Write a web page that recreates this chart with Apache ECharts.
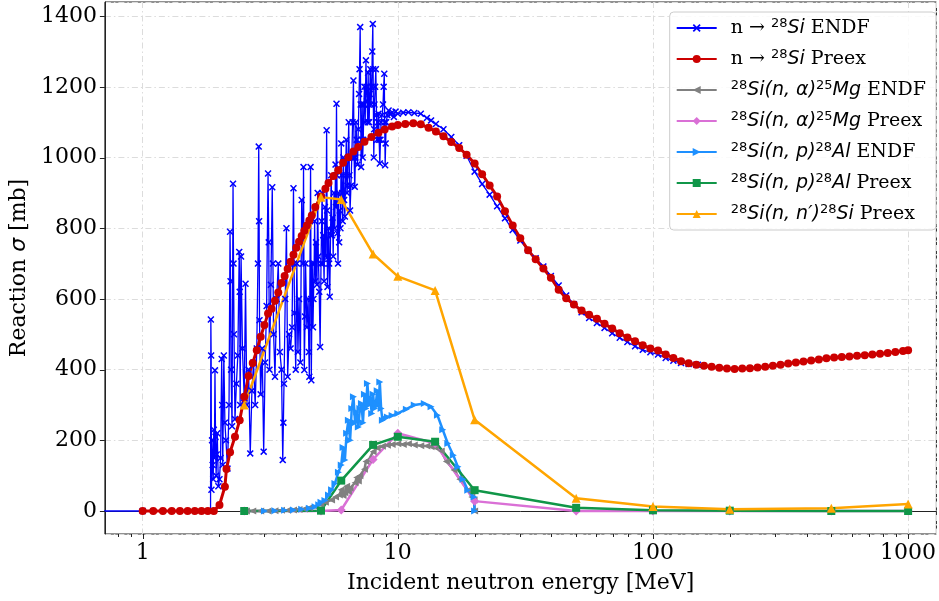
<!DOCTYPE html>
<html>
<head>
<meta charset="utf-8">
<script src="https://cdn.jsdelivr.net/npm/echarts@6/dist/echarts.min.js"></script>
<style>html,body{margin:0;padding:0;background:#fff}#c{width:939px;height:601px}</style>
</head>
<body>
<div id="c"></div>
<script>
// ---- data (energy in MeV, cross-section in mb) ----
const endfTotal = [[0.5,0],[1.0,0],[1.845,0],
[1.85,542],[1.855,440],[1.86,60],[1.87,200],[1.88,130],[1.89,90],[1.9,230],[1.91,150],[1.92,398],[1.93,210],[1.94,100],[1.95,160],[1.96,220],[1.98,70],[2.0,90],[2.02,150],[2.04,430],[2.05,300],[2.06,130],[2.08,440],[2.1,250],[2.12,200],[2.15,120],[2.18,300],[2.2,790],[2.21,650],[2.22,400],[2.24,240],[2.26,926],[2.27,700],[2.28,500],[2.3,260],[2.33,360],[2.36,440],[2.39,733],[2.4,620],[2.41,300],[2.43,720],[2.46,460],[2.5,320],[2.53,643],[2.56,300],[2.6,400],[2.64,163],[2.68,340],[2.72,420],[2.76,300],[2.8,460],[2.83,700],[2.85,1031],[2.86,820],[2.87,540],[2.9,330],[2.94,460],[2.98,168],[3.02,420],[3.06,580],[3.1,955],[3.12,760],[3.14,400],[3.18,640],[3.22,916],[3.24,700],[3.26,500],[3.3,380],[3.35,600],[3.4,700],[3.45,450],[3.5,400],[3.54,144],[3.56,250],[3.58,360],[3.62,600],[3.66,800],[3.7,380],[3.75,500],[3.8,460],[3.85,520],[3.9,913],[3.92,700],[3.94,560],[3.98,400],[4.02,700],[4.06,450],[4.1,600],[4.15,420],[4.2,880],[4.25,700],[4.27,973],[4.3,399],[4.33,550],[4.35,700],[4.4,520],[4.45,600],[4.48,450],[4.5,380],[4.55,973],[4.57,600],[4.58,370],[4.62,700],[4.65,520],[4.67,600],[4.7,700],[4.72,820],[4.75,650],[4.78,760],[4.82,640],[4.85,900],[4.88,720],[4.92,620],[4.96,464],[5.0,700],[5.03,820],[5.05,900],[5.08,700],[5.1,780],[5.14,650],[5.18,860],[5.22,720],[5.26,1077],[5.28,850],[5.3,634],[5.33,720],[5.36,800],[5.38,700],[5.41,606],[5.45,780],[5.48,950],[5.52,780],[5.55,830],[5.58,720],[5.62,900],[5.66,800],[5.7,980],[5.72,860],[5.75,1152],[5.77,950],[5.8,786],[5.83,700],[5.86,900],[5.89,760],[5.92,850],[5.96,800],[6.0,1040],[6.02,950],[6.05,900],[6.08,820],[6.12,1000],[6.16,880],[6.2,833],[6.24,950],[6.28,1050],[6.32,900],[6.35,920],[6.38,1000],[6.42,1100],[6.46,950],[6.5,850],[6.55,920],[6.6,1000],[6.65,1100],[6.7,1218],[6.74,1000],[6.78,917],[6.82,1000],[6.85,1100],[6.9,1050],[6.95,980],[7.0,1080],[7.05,1180],[7.08,1250],[7.12,1369],[7.15,1150],[7.18,973],[7.22,1050],[7.25,1150],[7.28,1000],[7.32,1050],[7.36,1150],[7.4,1200],[7.45,1100],[7.5,1275],[7.54,1200],[7.58,1160],[7.62,1100],[7.65,1240],[7.68,1150],[7.72,1100],[7.76,1180],[7.8,1250],[7.85,1150],[7.9,1200],[7.94,1300],[7.98,1378],[8.0,1250],[8.05,1000],[8.08,1080],[8.1,1150],[8.15,1200],[8.2,1250],[8.25,1120],[8.3,1050],[8.35,1100],[8.4,1124],[8.45,1050],[8.5,983],[8.55,1050],[8.6,1100],[8.68,1120],[8.75,1150],[8.8,1200],[8.85,1237],[8.88,1100],[8.92,978],[8.96,1040],[9.0,1100],[9.1,1120],[9.2,1133],[9.35,1122],[9.5,1128],[9.65,1115],[9.8,1130],
[10,1124],[10.5,1127],[11,1128],[11.6,1126],[12.3,1124],[13.0,1112],[13.5,1105],[14.1,1095],[15.1,1080],[16.2,1058],[17.4,1035],[18.6,1005],[20,960],[21.4,925],[22.9,895],[24.5,862],[26.3,828],[28.2,795],[30.2,765],[32.4,738],[34.7,715],[37.2,692],[39.8,665],[42.7,638],[45.7,610],[49,585],[52.5,562],[56.2,546],[60.3,532],[64.6,518],[69.2,503],[74.1,490],[79.4,478],[85.1,466],[91.2,456],[97.7,449],[104.7,443],[112.2,433],[120.2,425],[128.8,419],[138,416],[147.9,414],[150,414]];

const preexTotal = [[1.0,0],[1.1,0],[1.2,0],[1.3,0],[1.4,0],[1.5,0],[1.6,0],[1.7,0],[1.8,0],[1.9,0],[2.0,17],[2.1,69],[2.13,119],[2.2,166],[2.3,210],[2.4,257],[2.5,323],[2.6,382],[2.7,419],[2.8,455],[2.9,493],[3.0,526],[3.1,559],[3.2,572],[3.3,595],[3.4,618],[3.5,645],[3.6,665],[3.7,685],[3.8,705],[3.9,725],[4.0,745],[4.1,762],[4.2,778],[4.3,793],[4.4,808],[4.5,822],[4.6,836],[4.75,860],[5.0,890],[5.2,912],[5.35,928],[5.6,948],[5.84,964],[6.1,985],[6.4,1001],[6.7,1017],[7.0,1030],[7.4,1045],[7.88,1058],[8.4,1070],[8.88,1079],[9.5,1088],
[10,1092],[10.7,1095],[11.5,1097],[12.3,1094],[13.2,1084],[14.1,1074],[15.1,1060],[16.2,1044],[17.4,1027],[18.6,1008],[20,983],[21.4,953],[22.9,921],[24.5,890],[26.3,848],[28.2,808],[30.2,772],[32.4,738],[34.7,712],[37.2,686],[39.8,660],[42.7,626],[45.7,602],[49,584],[52.5,567],[56.2,555],[60.3,544],[64.6,530],[69.2,516],[74.1,503],[79.4,491],[85.1,480],[91.2,469],[97.7,460],[104.7,454],[112.2,443],[120.2,433],[128.8,424],[138,418],[147.9,414],[158.5,411],[169.8,408],[182,405],[195,403],[208.9,402],[223.9,403],[239.9,404],[257,406],[275.4,408],[295.1,411],[316.2,414],[338.8,417],[363.1,420],[389,423],[416.9,426],[446.7,429],[478.6,432],[512.9,434],[549.5,436],[588.8,437],[631,439],[676.1,441],[724.4,443],[776.2,445],[831.8,447],[891.3,450],[955,453],[1000,455]];

const endfAlpha = [[2.55,0],[2.7,0],[2.9,0],[3.1,0],[3.3,1],[3.5,2],[3.7,2],[3.9,3],[4.1,4],[4.3,6],[4.5,9],[4.75,12],[5.0,18],[5.2,25],[5.5,31],[5.7,40],[5.9,45],[6.0,60],[6.1,44],[6.2,52],[6.3,70],[6.4,55],[6.5,65],[6.8,80],[6.9,95],[7.0,85],[7.1,100],[7.4,118],[7.5,140],[7.7,145],[8.0,168],[8.3,178],[8.7,183],[9.1,186],[9.5,188],[10,190],[10.5,188],[11,190],[11.6,187],[12.3,185],[13,184],[13.5,182],[14,180],[14.8,170],[15.5,140],[16.6,116],[17.5,90],[18.8,59],[19.5,40],[19.9,31],[20,0]];
const preexAlpha = [[2.5,0],[5,0],[6,3],[8,146],[10,220],[14,191],[20,28],[50,0],[100,0],[200,0],[500,0],[1000,0]];
const endfP = [[3.0,0],[3.3,1],[3.6,2],[3.9,3],[4.2,5],[4.5,8],[4.74,12],[4.9,18],[5.0,25],[5.18,30],[5.35,45],[5.5,60],[5.67,78],[5.85,110],[6.0,130],[6.1,180],[6.2,144],[6.3,220],[6.4,257],[6.5,200],[6.6,290],[6.7,323],[6.8,250],[6.9,280],[7.0,238],[7.1,290],[7.2,304],[7.3,250],[7.4,330],[7.5,290],[7.6,361],[7.7,300],[7.8,320],[7.9,276],[8.0,330],[8.1,290],[8.2,304],[8.3,340],[8.4,300],[8.5,365],[8.6,290],[8.7,257],[8.9,262],[9.1,266],[9.5,270],[10,276],[10.8,288],[11.6,300],[12.7,304],[13.5,295],[14.3,271],[15.0,230],[15.7,191],[16.5,158],[17.2,125],[18,90],[18.8,59],[19.9,40],[20,0]];
const preexP = [[2.5,0],[5,1],[6,86],[8,187],[10,210],[14,196],[20,59],[50,9],[100,2],[200,1],[500,0],[1000,0]];
const preexInel = [[2.5,300],[5,888],[6,881],[8,727],[10,664],[14,624],[20,258],[50,36],[100,13],[200,5],[500,8],[1000,20]];

const seriesNames = ['n → 28Si ENDF','n → 28Si Preex','28Si(n,α)25Mg ENDF','28Si(n,α)25Mg Preex','28Si(n,p)28Al ENDF','28Si(n,p)28Al Preex',"28Si(n,n')28Si Preex"];
const legendRich = [
 '{g|}{t|n → }{s|28}{m|Si}{t| ENDF}',
 '{g|}{t|n → }{s|28}{m|Si}{t| Preex}',
 '{g|}{s|28}{m|Si(n, α)}{s|25}{m|Mg}{t| ENDF}',
 '{g|}{s|28}{m|Si(n, α)}{s|25}{m|Mg}{t| Preex}',
 '{g|}{s|28}{m|Si(n, p)}{s|28}{m|Al}{t| ENDF}',
 '{g|}{s|28}{m|Si(n, p)}{s|28}{m|Al}{t| Preex}',
 '{g|}{s|28}{m|Si(n, n′)}{s|28}{m|Si}{t| Preex}'
];
const xTitle = 'Incident neutron energy [MeV]';
const yTitleRich = '{t|Reaction }{m|σ}{t| [mb]}';
const xMajorTicks = [1,10,100,1000];
const xMinorTicks = [0.8,0.9,2,3,4,5,6,7,8,9,20,30,40,50,60,70,80,90,200,300,400,500,600,700,800,900];
const yTicks = [0,200,400,600,800,1000,1200,1400];
const X_MIN = 0.711, X_MAX = 1291, Y_MIN = -65, Y_MAX = 1440;

const SYM_X = 'path://M0,1.5L1.5,0L5,3.5L8.5,0L10,1.5L6.5,5L10,8.5L8.5,10L5,6.5L1.5,10L0,8.5L3.5,5Z';
const SYM_LEFT = 'path://M0,5L10,0L10,10Z';
const SYM_RIGHT = 'path://M10,5L0,0L0,10Z';

function lineSeries(name, data, color, width, symbol, size) {
  return {
    name, type: 'line', data, symbol, symbolSize: size, showSymbol: true,
    lineStyle: { color, width }, itemStyle: { color, borderWidth: 0 },
    emphasis: { disabled: true }, clip: true
  };
}

const chart = echarts.init(document.getElementById('c'), null, { renderer: 'canvas' });
const xTickData = xMajorTicks.map(v => [v, 0, 1]).concat(xMinorTicks.map(v => [v, 0, 0]));
const yTickData = yTicks.map(v => [1, v]);
const gridLine = { show: true, lineStyle: { color: '#dcdcdc', width: 1, type: [6, 3, 1.5, 3] } };
const labelFont = { fontFamily: 'DejaVu Serif', fontSize: 22, color: '#000' };

chart.setOption({
  animation: false,
  backgroundColor: '#fff',
  grid: { left: 102, right: 1, top: 2, bottom: 67, show: true, borderColor: '#222', borderWidth: 1, backgroundColor: 'transparent' },
  xAxis: {
    type: 'log', logBase: 10, min: X_MIN, max: X_MAX,
    name: xTitle, nameLocation: 'middle', nameGap: 38,
    nameTextStyle: Object.assign({}, labelFont),
    axisLine: { show: true, lineStyle: { color: '#222', width: 1 } },
    axisTick: { show: false }, minorTick: { show: false },
    axisLabel: Object.assign({ margin: 8, showMinLabel: false, showMaxLabel: false, formatter: v => String(v) }, labelFont),
    splitLine: gridLine
  },
  yAxis: {
    type: 'value', min: Y_MIN, max: Y_MAX, splitNumber: 7,
    name: yTitleRich, nameLocation: 'middle', nameGap: 70,
    nameTextStyle: Object.assign({}, labelFont, {
      rich: {
        t: { fontFamily: 'DejaVu Serif', fontSize: 22, color: '#000' },
        m: { fontFamily: 'DejaVu Sans', fontStyle: 'italic', fontSize: 22, color: '#000' }
      }
    }),
    axisLine: { show: true, lineStyle: { color: '#222', width: 1 } },
    axisTick: { show: false },
    axisLabel: Object.assign({ margin: 8, showMinLabel: false, showMaxLabel: false, formatter: v => String(v) }, labelFont),
    splitLine: gridLine
  },
  legend: {
    data: seriesNames, orient: 'vertical', right: 3, top: 12,
    backgroundColor: 'rgba(255,255,255,0.85)', borderColor: '#cccccc', borderWidth: 1, borderRadius: 4,
    padding: [5, 10, 5, 6], itemGap: 9, itemWidth: 40, itemHeight: 10,
    formatter: name => legendRich[seriesNames.indexOf(name)],
    textStyle: {
      color: '#000', fontFamily: 'DejaVu Serif', fontSize: 19, lineHeight: 22,
      rich: {
        g: { width: 9, height: 22, lineHeight: 22 },
        t: { fontFamily: 'DejaVu Serif', fontSize: 19, lineHeight: 22, color: '#000' },
        m: { fontFamily: 'DejaVu Sans', fontStyle: 'italic', fontSize: 19, lineHeight: 22, color: '#000' },
        s: { fontFamily: 'DejaVu Sans', fontSize: 13, lineHeight: 12, verticalAlign: 'top', color: '#000' }
      }
    }
  },
  series: [
    lineSeries(seriesNames[0], endfTotal, '#0000ff', 1.3, SYM_X, 7),
    lineSeries(seriesNames[1], preexTotal, '#cc0000', 3, 'circle', 8),
    lineSeries(seriesNames[2], endfAlpha, '#808080', 2.5, SYM_LEFT, 7),
    lineSeries(seriesNames[3], preexAlpha, '#da70d6', 2.5, 'diamond', 9),
    lineSeries(seriesNames[4], endfP, '#1e90ff', 2.5, SYM_RIGHT, 7),
    lineSeries(seriesNames[5], preexP, '#109648', 2.5, 'rect', 8),
    lineSeries(seriesNames[6], preexInel, '#ffa500', 2.5, 'triangle', 9),
    {
      type: 'custom', name: 'xticks', silent: true, clip: false, z: 10,
      data: xTickData,
      renderItem(params, api) {
        const p = api.coord([api.value(0), Y_MIN]);
        const cs = params.coordSys;
        const b = cs.y + cs.height;
        const len = api.value(2) ? 5 : 3;
        const x = Math.round(p[0]) + 0.5;
        return { type: 'line', shape: { x1: x, y1: b, x2: x, y2: b + len }, style: { stroke: '#222', lineWidth: 1 } };
      }
    },
    {
      type: 'custom', name: 'yticks', silent: true, clip: false, z: 10,
      data: yTickData,
      renderItem(params, api) {
        const p = api.coord([1, api.value(1)]);
        const cs = params.coordSys;
        const y = Math.round(p[1]) + 0.5;
        return { type: 'line', shape: { x1: cs.x - 5, y1: y, x2: cs.x, y2: y }, style: { stroke: '#222', lineWidth: 1 } };
      }
    }
  ]
});
</script>
</body>
</html>
